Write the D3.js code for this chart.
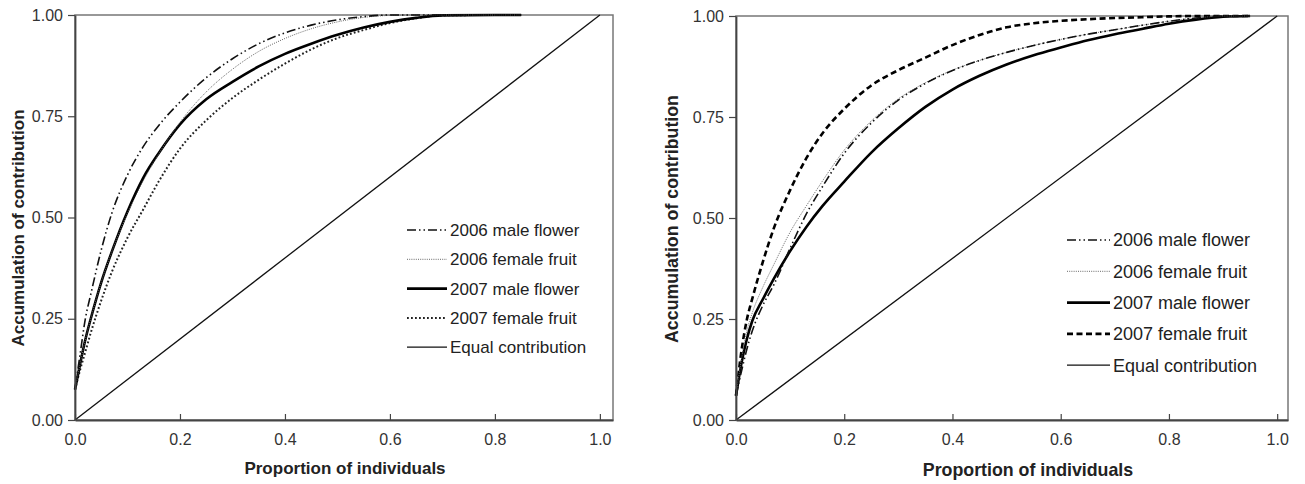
<!DOCTYPE html>
<html lang="en">
<head>
    <meta charset="UTF-8">
    <title>Accumulation of contribution</title>
    <script src="https://d3js.org/d3.v7.min.js"></script>
    <style>
        body { margin: 0; background: #fff; font-family: Arial, "Liberation Sans", sans-serif; }
        svg { display: block; }
        .tick text { fill: #333; }
        .title { font-weight: bold; fill: #222; }
        .legend text { fill: #222; }
    </style>
</head>
<body>
    <svg width="1305" height="484"></svg>

    <script>
        // ---- data ----
        const xTicks = [0, 0.2, 0.4, 0.6, 0.8, 1.0];
        const yTicks = [0, 0.25, 0.5, 0.75, 1.0];
        const seriesNames = ["2006 male flower", "2006 female fruit", "2007 male flower", "2007 female fruit", "Equal contribution"];

        const equalX = [0, 1];
        const equalY = [0, 1];

        // left panel
        const leftX =          [0,     0.01,  0.02,  0.03,  0.05,  0.07,  0.1,   0.13,  0.16,  0.2,   0.25,  0.3,   0.35,  0.4,   0.45,  0.5,   0.55,  0.6,   0.65,  0.7,   0.8, 0.85];
        const leftMale2006 =   [0.075, 0.165, 0.252, 0.31,  0.42,  0.51,  0.605, 0.675, 0.728, 0.785, 0.845, 0.892, 0.929, 0.956, 0.975, 0.988, 0.996, 1.0,   1.0,   1.0,   1.0, 1.0];
        const leftFemale2006 = [0.075, 0.14,  0.2,   0.25,  0.34,  0.415, 0.51,  0.59,  0.658, 0.735, 0.81,  0.866, 0.91,  0.942, 0.966, 0.983, 0.994, 0.999, 1.0,   1.0,   1.0, 1.0];
        const leftMale2007 =   [0.075, 0.14,  0.2,   0.25,  0.34,  0.415, 0.515, 0.598, 0.66,  0.73,  0.792, 0.835, 0.873, 0.904, 0.929, 0.951, 0.969, 0.983, 0.993, 0.999, 1.0, 1.0];
        const leftFemale2007 = [0.075, 0.125, 0.17,  0.215, 0.295, 0.365, 0.45,  0.52,  0.59,  0.67,  0.74,  0.795, 0.84,  0.88,  0.915, 0.943, 0.963, 0.98,  0.992, 0.999, 1.0, 1.0];

        // right panel
        const rightX =          [0,    0.01,  0.02,  0.03,  0.05,  0.07,  0.1,   0.13,  0.16,  0.2,   0.25,  0.3,   0.35,  0.4,   0.45,  0.5,   0.55,  0.6,   0.65,  0.7,   0.75,  0.8,   0.85,  0.9,   0.95];
        const rightMale2006 =   [0.06, 0.12,  0.175, 0.22,  0.285, 0.335, 0.425, 0.51,  0.578, 0.66,  0.735, 0.792, 0.833, 0.865, 0.89,  0.91,  0.927, 0.942, 0.955, 0.966, 0.977, 0.987, 0.995, 1.0,   1.0];
        const rightFemale2006 = [0.06, 0.15,  0.22,  0.265, 0.33,  0.385, 0.465, 0.53,  0.592, 0.668, 0.74,  0.795, 0.835, 0.866, 0.89,  0.91,  0.927, 0.942, 0.955, 0.966, 0.977, 0.987, 0.995, 1.0,   1.0];
        const rightMale2007 =   [0.06, 0.14,  0.2,   0.245, 0.30,  0.35,  0.418, 0.478, 0.53,  0.59,  0.662, 0.722, 0.775, 0.818, 0.852, 0.88,  0.903, 0.922, 0.94,  0.955, 0.968, 0.981, 0.991, 0.998, 1.0];
        const rightFemale2007 = [0.06, 0.17,  0.248, 0.30,  0.393, 0.475, 0.569, 0.648, 0.71,  0.77,  0.828, 0.866, 0.897, 0.928, 0.953, 0.972, 0.982, 0.988, 0.992, 0.995, 0.997, 0.999, 1.0,   1.0,   1.0];

        const svg = d3.select("svg");

        // line styles per series
        const styleDashDot = { width: 1.6, dash: "9,3,1.5,3,1.5,3", color: "#111" };
        const styleFine    = { width: 1,   dash: "1,1.2",           color: "#666" };
        const styleSolid   = { width: 2.6, dash: null,              color: "#000" };
        const styleDots    = { width: 2,   dash: "1.8,2.2",         color: "#222" };
        const styleDashed  = { width: 2.6, dash: "6,3.5",           color: "#000" };
        const styleEqual   = { width: 1.3, dash: null,              color: "#111" };

        function drawPanel(p) {
            const x = d3.scaleLinear().domain([0, p.xMax]).range([p.left, p.right]);
            const y = d3.scaleLinear().domain([0, 1]).range([p.bottom, p.top]);
            const g = svg.append("g");

            // frame (top/right)
            g.append("rect")
                .attr("x", p.left).attr("y", p.top)
                .attr("width", p.right - p.left).attr("height", p.bottom - p.top)
                .attr("fill", "none").attr("stroke", "#777").attr("stroke-width", 1.5);

            const line = d3.line().x(d => x(d[0])).y(d => y(d[1])).curve(d3.curveMonotoneX);

            const series = [
                { xs: equalX, ys: equalY, s: styleEqual },
                { xs: p.xs, ys: p.female07, s: p.femaleStyle },
                { xs: p.xs, ys: p.male07, s: styleSolid },
                { xs: p.xs, ys: p.female06, s: styleFine },
                { xs: p.xs, ys: p.male06, s: styleDashDot }
            ];
            series.forEach(d => {
                g.append("path")
                    .datum(d.xs.map((v, i) => [v, d.ys[i]]))
                    .attr("d", line)
                    .attr("fill", "none")
                    .attr("stroke", d.s.color)
                    .attr("stroke-width", d.s.width)
                    .attr("stroke-dasharray", d.s.dash);
            });

            // axes
            const xAxis = g.append("g")
                .attr("transform", `translate(0,${p.bottom})`)
                .call(d3.axisBottom(x).tickValues(xTicks).tickFormat(d3.format(".1f"))
                    .tickSizeInner(-6).tickSizeOuter(0).tickPadding(14));
            const yAxis = g.append("g")
                .attr("transform", `translate(${p.left},0)`)
                .call(d3.axisLeft(y).tickValues(yTicks).tickFormat(d3.format(".2f"))
                    .tickSizeInner(7).tickSizeOuter(0).tickPadding(5));
            [xAxis, yAxis].forEach(a => {
                a.select(".domain").attr("stroke", "#444").attr("stroke-width", 1.8);
                a.selectAll(".tick line").attr("stroke", "#444").attr("stroke-width", 1.2);
                a.selectAll(".tick text").attr("font-size", p.tickFont).attr("font-family", "Arial, 'Liberation Sans', sans-serif");
            });

            // titles
            g.append("text").attr("class", "title")
                .attr("x", p.xTitleX).attr("y", p.xTitleY)
                .attr("text-anchor", "middle").attr("font-size", p.titleFont)
                .text("Proportion of individuals");
            g.append("text").attr("class", "title")
                .attr("transform", `translate(${p.yTitleX},${p.yTitleY}) rotate(-90)`)
                .attr("text-anchor", "middle").attr("font-size", p.titleFont)
                .text("Accumulation of contribution");

            // legend
            const legStyles = [styleDashDot, styleFine, styleSolid, p.femaleStyle, styleEqual];
            const leg = g.append("g").attr("class", "legend");
            seriesNames.forEach((name, i) => {
                const yy = p.legY + i * p.legStep;
                leg.append("line")
                    .attr("x1", p.legX).attr("x2", p.legX + p.legLen)
                    .attr("y1", yy).attr("y2", yy)
                    .attr("stroke", legStyles[i].color)
                    .attr("stroke-width", legStyles[i].width)
                    .attr("stroke-dasharray", legStyles[i].dash);
                leg.append("text")
                    .attr("x", p.legX + p.legLen + 3).attr("y", yy)
                    .attr("dy", "0.35em").attr("font-size", p.legFont)
                    .text(name);
            });
        }

        drawPanel({
            left: 75, right: 613, top: 15, bottom: 420, xMax: 1.025,
            xs: leftX, male06: leftMale2006, female06: leftFemale2006, male07: leftMale2007, female07: leftFemale2007,
            femaleStyle: styleDots,
            tickFont: 16, titleFont: 17,
            xTitleX: 345, xTitleY: 474, yTitleX: 24, yTitleY: 228,
            legX: 407, legLen: 40, legY: 230, legStep: 29.3, legFont: 17
        });

        drawPanel({
            left: 736, right: 1288, top: 16, bottom: 420, xMax: 1.02,
            xs: rightX, male06: rightMale2006, female06: rightFemale2006, male07: rightMale2007, female07: rightFemale2007,
            femaleStyle: styleDashed,
            tickFont: 16, titleFont: 17.8,
            xTitleX: 1028, xTitleY: 476, yTitleX: 678, yTitleY: 219,
            legX: 1067, legLen: 43, legY: 240, legStep: 31.3, legFont: 18
        });
    </script>
</body>
</html>
